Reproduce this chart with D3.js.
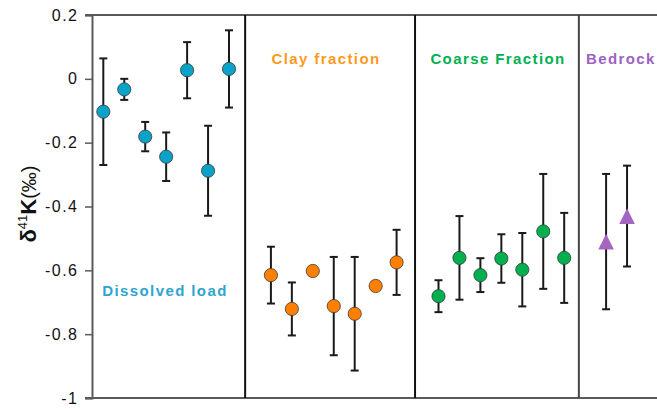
<!DOCTYPE html>
<html>
<head>
<meta charset="utf-8">
<script src="https://cdn.jsdelivr.net/npm/d3@7"></script>
<style>
  html, body { margin: 0; padding: 0; background: #fff; }
  svg { display: block; font-family: Arial, "Liberation Sans", sans-serif; }
</style>
</head>
<body>
<svg id="chart" width="657" height="409"></svg>
<script>
// δ41K (‰) by sample group, with 2SD error bars (null = no bar)
const groups = ["Dissolved load", "Clay fraction", "Coarse Fraction", "Bedrock"];

const dissolvedVals = [-0.103, -0.033, -0.181, -0.244, 0.027, -0.288, 0.031];
const dissolvedErr  = [0.167, 0.033, 0.046, 0.076, 0.088, 0.141, 0.121];

const clayVals = [-0.615, -0.721, -0.602, -0.712, -0.736, -0.649, -0.575];
const clayErr  = [0.089, 0.083, null, 0.154, 0.178, null, 0.102];

const coarseVals = [-0.681, -0.561, -0.615, -0.563, -0.598, -0.478, -0.561];
const coarseErr  = [0.050, 0.131, 0.053, 0.076, 0.115, 0.180, 0.141];

const bedrockVals = [-0.510, -0.430];
const bedrockErr  = [0.212, 0.158];

const yTicks = [0.2, 0, -0.2, -0.4, -0.6, -0.8, -1];
const yTickLabels = ["0.2", "0", "-0.2", "-0.4", "-0.6", "-0.8", "-1"];

// ---- layout ----
const W = 657, H = 409;
const plotTop = 15, plotBottom = 398, axisX = 92;
const svg = d3.select("#chart");

const y = d3.scaleLinear().domain([-1, 0.2]).range([plotBottom, plotTop]);
// horizontal position in sample slots (each group of samples followed by a gap slot)
const x = d3.scaleLinear().domain([-0.54, 26.43]).range([axisX, W]);

const series = [
  { vals: dissolvedVals, err: dissolvedErr, start: 0,  fill: "#0aa2c6", shape: "circle" },
  { vals: clayVals,      err: clayErr,      start: 8,  fill: "#ff8000", shape: "circle" },
  { vals: coarseVals,    err: coarseErr,    start: 16, fill: "#00b04f", shape: "circle" },
  { vals: bedrockVals,   err: bedrockErr,   start: 24, fill: "#a466c2", shape: "triangle" }
];

// ---- axes & frame ----
const axisColor = "#5a5a5a";
svg.append("line").attr("x1", 85).attr("x2", W).attr("y1", plotTop).attr("y2", plotTop)
  .attr("stroke", axisColor).attr("stroke-width", 2);
svg.append("line").attr("x1", 85).attr("x2", W).attr("y1", plotBottom).attr("y2", plotBottom)
  .attr("stroke", axisColor).attr("stroke-width", 2);

const yAxis = d3.axisLeft(y).tickValues(yTicks)
  .tickFormat((d, i) => yTickLabels[i]).tickSize(7).tickPadding(8);
const gy = svg.append("g").attr("transform", `translate(${axisX},0)`).call(yAxis);
gy.select(".domain").attr("stroke", axisColor).attr("stroke-width", 2);
gy.selectAll(".tick line").attr("stroke", axisColor).attr("stroke-width", 1.5);
gy.selectAll(".tick text")
  .attr("fill", "#111").attr("font-size", 16)
  .attr("font-family", "Arial, 'Liberation Sans', sans-serif")
  .attr("letter-spacing", "1.5px")
  .attr("dx", "1.5px");

// group dividers
const dividers = [
  { at: 6.77,  color: "#111" },
  { at: 14.88, color: "#111" },
  { at: 22.70, color: "#454545" }
];
svg.selectAll("line.divider").data(dividers).join("line")
  .attr("class", "divider")
  .attr("x1", d => x(d.at)).attr("x2", d => x(d.at))
  .attr("y1", plotTop).attr("y2", plotBottom)
  .attr("stroke", d => d.color).attr("stroke-width", 2);

// ---- error bars ----
const capHalf = 4;
series.forEach(s => {
  const pts = s.vals.map((v, i) => ({ v, e: s.err[i], xi: x(s.start + i) }));
  const withErr = pts.filter(p => p.e != null);
  const g = svg.append("g").attr("stroke", "#1a1a1a").attr("stroke-width", 2);
  g.selectAll("line.stem").data(withErr).join("line")
    .attr("x1", p => p.xi).attr("x2", p => p.xi)
    .attr("y1", p => y(p.v + p.e)).attr("y2", p => y(p.v - p.e));
  g.selectAll("line.capT").data(withErr).join("line")
    .attr("x1", p => p.xi - capHalf).attr("x2", p => p.xi + capHalf)
    .attr("y1", p => y(p.v + p.e)).attr("y2", p => y(p.v + p.e));
  g.selectAll("line.capB").data(withErr).join("line")
    .attr("x1", p => p.xi - capHalf).attr("x2", p => p.xi + capHalf)
    .attr("y1", p => y(p.v - p.e)).attr("y2", p => y(p.v - p.e));

  // markers
  if (s.shape === "circle") {
    svg.append("g").selectAll("circle").data(pts).join("circle")
      .attr("cx", p => p.xi).attr("cy", p => y(p.v)).attr("r", 6.6)
      .attr("fill", s.fill).attr("stroke", "#3a3a3a").attr("stroke-width", 0.8);
  } else {
    const hw = 7.8, hh = 7.8;
    svg.append("g").selectAll("path").data(pts).join("path")
      .attr("d", p => {
        const cx = p.xi, cy = y(p.v);
        return `M${cx},${cy - hh}L${cx + hw},${cy + hh}L${cx - hw},${cy + hh}Z`;
      })
      .attr("fill", s.fill);
  }
});

// ---- group labels ----
const labelStyle = [
  { text: groups[0], x: 165, y: 296, color: "#2ea5d0", anchor: "middle" },
  { text: groups[1], x: 326, y: 64,  color: "#ff9a1c", anchor: "middle" },
  { text: groups[2], x: 498, y: 64,  color: "#00b050", anchor: "middle" },
  { text: groups[3], x: 586, y: 64,  color: "#9d62c4", anchor: "start" }
];
svg.selectAll("text.group").data(labelStyle).join("text")
  .attr("class", "group")
  .attr("x", d => d.x).attr("y", d => d.y)
  .attr("text-anchor", d => d.anchor)
  .attr("fill", d => d.color)
  .attr("font-size", 15).attr("font-weight", "bold")
  .attr("letter-spacing", "1.4px")
  .text(d => d.text);

// ---- y-axis title ----
const title = svg.append("text")
  .attr("transform", "translate(36,204) rotate(-90)")
  .attr("text-anchor", "middle")
  .attr("fill", "#111")
  .attr("font-size", 22);
title.append("tspan").attr("font-weight", "bold").text("δ");
title.append("tspan").attr("font-size", 13).attr("dy", -9).text("41");
title.append("tspan").attr("font-weight", "bold").attr("dy", 9).text("K");
title.append("tspan").attr("font-size", 20).text("(‰)");
</script>
</body>
</html>
